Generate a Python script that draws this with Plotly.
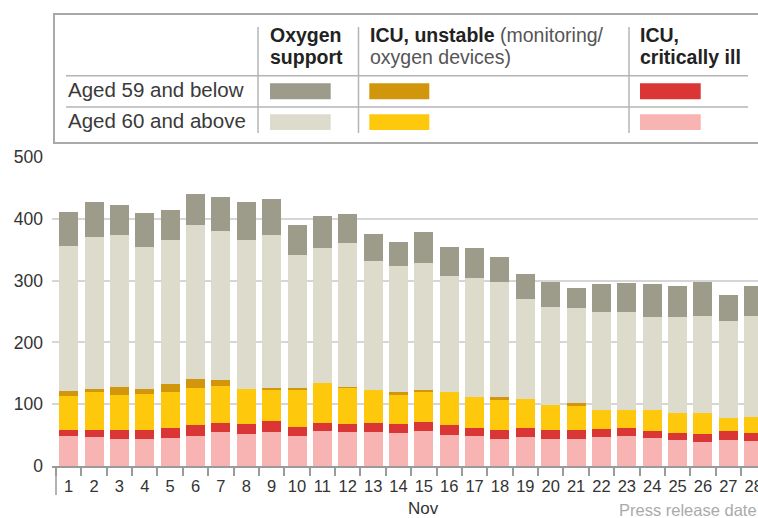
import plotly.graph_objects as go

# ---------------- data ----------------
days = list(range(1, 29))
day_labels = [str(d) for d in days]

crit_60_above = [49, 47, 44, 43, 46, 49, 55, 52, 55, 49, 57, 55, 55, 53, 57, 50, 49, 43, 47, 43, 44, 47, 49, 45, 42, 39, 42, 40]
crit_59_below = [10, 12, 15, 16, 15, 17, 15, 16, 18, 14, 13, 13, 15, 15, 15, 16, 13, 16, 15, 16, 14, 13, 13, 12, 12, 12, 15, 14]
unstable_60_above = [54, 61, 56, 58, 58, 60, 60, 57, 51, 60, 65, 59, 53, 47, 48, 54, 49, 48, 47, 40, 39, 31, 29, 34, 31, 34, 21, 26]
unstable_59_below = [9, 4, 13, 7, 14, 14, 9, 0, 3, 3, 0, 1, 0, 4, 3, 0, 0, 5, 0, 0, 5, 0, 0, 0, 0, 0, 0, 0]
oxygen_60_above = [234, 246, 246, 231, 233, 250, 242, 240, 247, 216, 218, 233, 208, 205, 206, 187, 193, 186, 162, 159, 154, 158, 158, 150, 156, 158, 157, 163]
oxygen_59_below = [55, 58, 48, 55, 48, 50, 54, 62, 58, 48, 51, 47, 45, 39, 49, 47, 49, 40, 40, 40, 32, 45, 47, 53, 50, 55, 42, 48]

y_ticks = [0, 100, 200, 300, 400, 500]
month_label = "Nov"
month_label_day = 15
x_title = "Press release date"

row_labels = ["Aged 59 and below", "Aged 60 and above"]

# colours
C_OXY59 = "#9d9b8a"
C_OXY60 = "#dcdbcc"
C_UNS59 = "#d1960b"
C_UNS60 = "#fec90c"
C_CRI59 = "#db3636"
C_CRI60 = "#f8b4b2"

series = [
    ("ICU, critically ill - Aged 60 and above", crit_60_above, C_CRI60),
    ("ICU, critically ill - Aged 59 and below", crit_59_below, C_CRI59),
    ("ICU, unstable - Aged 60 and above", unstable_60_above, C_UNS60),
    ("ICU, unstable - Aged 59 and below", unstable_59_below, C_UNS59),
    ("Oxygen support - Aged 60 and above", oxygen_60_above, C_OXY60),
    ("Oxygen support - Aged 59 and below", oxygen_59_below, C_OXY59),
]

# ---------------- layout geometry (pixels) ----------------
W, H = 758, 518
L, R, T, B = 52, 758, 157, 466


def px(x):
    return (x - L) / (R - L)


def py(y):
    return (B - y) / (B - T)


SANS = "Liberation Sans, Arial, sans-serif"

fig = go.Figure()
for name, vals, col in series:
    fig.add_trace(go.Bar(
        x=days, y=vals, name=name, marker=dict(color=col, line=dict(width=0)),
        width=0.75, showlegend=False,
        hovertemplate="%{x} Nov: %{y}<extra>" + name + "</extra>",
    ))

shapes = []
annotations = []

# legend table box
shapes.append(dict(type="rect", xref="paper", yref="paper",
                   x0=px(54), x1=px(790), y0=py(143), y1=py(14),
                   line=dict(color="#a9a9a9", width=2), fillcolor="rgba(0,0,0,0)", layer="above"))
for yy in (75.7, 107):
    shapes.append(dict(type="line", xref="paper", yref="paper",
                       x0=px(66), x1=px(748), y0=py(yy), y1=py(yy),
                       line=dict(color="#b4b4b4", width=1.5)))
for xx in (258, 358.5, 629):
    shapes.append(dict(type="line", xref="paper", yref="paper",
                       x0=px(xx), x1=px(xx), y0=py(133), y1=py(27),
                       line=dict(color="#b4b4b4", width=1.5)))

# swatches
swatch_cols = [(270, 330.7), (369.3, 429.3), (640, 700.7)]
row_y = [(83.3, 99.3), (114.3, 130)]
swatch_colors = [[C_OXY59, C_UNS59, C_CRI59], [C_OXY60, C_UNS60, C_CRI60]]
for r, (y0, y1) in enumerate(row_y):
    for c, (x0, x1) in enumerate(swatch_cols):
        shapes.append(dict(type="rect", xref="paper", yref="paper",
                           x0=px(x0), x1=px(x1), y0=py(y1), y1=py(y0),
                           line=dict(width=0), fillcolor=swatch_colors[r][c]))


def text(x, y, s, size=20, color="#333333", family=SANS, xanchor="left"):
    annotations.append(dict(xref="paper", yref="paper", x=px(x), y=py(y), text=s,
                            showarrow=False, xanchor=xanchor, yanchor="middle",
                            font=dict(size=size, color=color, family=family)))


# row labels
text(66, 89.5, row_labels[0], size=20.5, color="#3a3a3a")
text(66, 120.5, row_labels[1], size=20.5, color="#3a3a3a")
# headers
text(268, 35, "<b>Oxygen</b>", size=19.5, color="#222222")
text(268, 57, "<b>support</b>", size=19.5, color="#222222")
text(368, 35, "<b>ICU, unstable</b> <span style='color:#555555'>(monitoring/</span>", size=19.5, color="#222222")
text(368, 57, "<span style='color:#555555'>oxygen devices)</span>", size=19.5, color="#222222")
text(638, 35, "<b>ICU,</b>", size=19.5, color="#222222")
text(638, 57, "<b>critically ill</b>", size=19.5, color="#222222")

# long tick at start of x axis
shapes.append(dict(type="line", xref="x", yref="paper", x0=0.5, x1=0.5,
                   y0=0, y1=py(495), line=dict(color="#9a9a9a", width=1.5)))

# month label and axis title
annotations.append(dict(xref="x", yref="paper", x=month_label_day, y=py(508), text=month_label,
                        showarrow=False, xanchor="center", yanchor="middle",
                        font=dict(size=17, color="#333333", family=SANS)))
text(759, 510, x_title, size=16.5, color="#aaaaaa", family=SANS, xanchor="right")

fig.update_layout(
    width=W, height=H,
    margin=dict(l=L, r=W - R, t=T, b=H - B, pad=0),
    barmode="stack", bargap=0.25,
    plot_bgcolor="white", paper_bgcolor="white",
    shapes=shapes, annotations=annotations,
    xaxis=dict(
        range=[0.5 - 4 / 25.37, 0.5 + 702 / 25.37],
        tickmode="array", tickvals=days, ticktext=day_labels,
        ticks="", showgrid=False, zeroline=False, automargin=False,
        showline=True, linecolor="#9a9a9a", linewidth=2,
        tickfont=dict(size=16.5, color="#333333", family=SANS),
        ticklabelstandoff=4, ticklabeloverflow="allow",
        minor=dict(tickmode="linear", tick0=0.5, dtick=1, ticks="outside",
                   ticklen=8, tickwidth=1.5, tickcolor="#9a9a9a", showgrid=False),
    ),
    yaxis=dict(
        range=[0, 500], tickmode="array", tickvals=y_ticks,
        ticks="", showgrid=True, gridcolor="#d6d6d6", gridwidth=1.6,
        zeroline=False, showline=False, automargin=False,
        tickfont=dict(size=17.5, color="#333333", family=SANS),
        ticklabelstandoff=8,
    ),
)

fig.write_html(
    "out.html",
    config={"displayModeBar": False},
    post_script="document.body.style.margin='0';document.body.style.overflow='hidden';",
)
